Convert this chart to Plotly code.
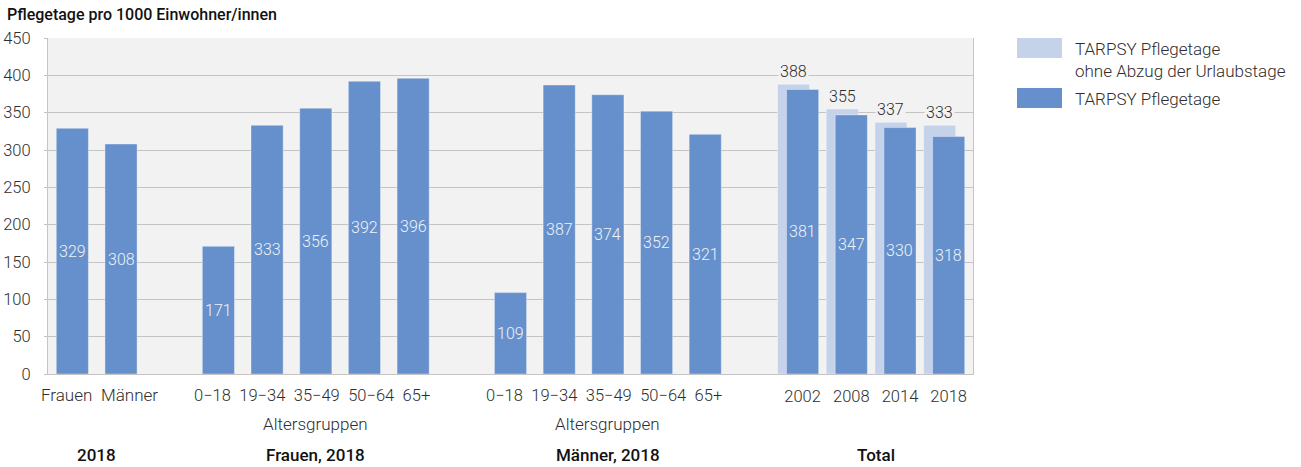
import plotly.graph_objects as go

# Category labels (slot indices on a numeric x axis; empty slots separate groups)
sex_labels = ["Frauen", "Männer"]
sex_pos = [0, 1]
age_labels = ["0\u221218", "19\u221234", "35\u221249", "50\u221264", "65+"]
age_pos_f = [3, 4, 5, 6, 7]
age_pos_m = [9, 10, 11, 12, 13]
year_labels = ["2002", "2008", "2014", "2018"]
year_pos = [15, 16, 17, 18]

# TARPSY Pflegetage per 1000 inhabitants
pflegetage_sex = [329, 308]
pflegetage_f = [171, 333, 356, 392, 396]
pflegetage_m = [109, 387, 374, 352, 321]
pflegetage_total = [381, 347, 330, 318]

# Totals without deduction of leave days
ohne_abzug_total = [388, 355, 337, 333]

group_labels = ["2018", "Frauen, 2018", "Männer, 2018", "Total"]
group_centers = [0.5, 5, 11, 16.5]
sub_label = "Altersgruppen"

slot_positions = sex_pos + age_pos_f + age_pos_m + year_pos
pflegetage = pflegetage_sex + pflegetage_f + pflegetage_m + pflegetage_total

DARK = "#6690cb"
LIGHT = "#c5d3ea"
BG = "#f2f2f2"
GRID = "#c4c4c4"
FONT = "Roboto"
TXT = "#2e2e2e"
FS = 16.5
GAP = "\u2002"  # en space between labels within a row

BAR_W = 0.66
LIGHT_SHIFT = -0.185

fig = go.Figure()

fig.add_trace(go.Bar(
    x=year_pos, y=ohne_abzug_total, width=BAR_W,
    offset=-BAR_W / 2 + LIGHT_SHIFT,
    marker=dict(color=LIGHT, line=dict(color="rgba(255,255,255,0.35)", width=1)),
    showlegend=False, hoverinfo="skip",
))
fig.add_trace(go.Bar(
    x=slot_positions, y=pflegetage, width=BAR_W,
    marker=dict(color=DARK, line=dict(color="rgba(255,255,255,0.35)", width=1)),
    showlegend=False, hoverinfo="skip",
))

# plot-area geometry in pixels
W, H = 1301, 467
L, R, T, B = 48, 328, 38, 93
pw, ph = W - L - R, H - T - B


def px(xp):
    return (xp - L) / pw


def py(yp):
    return (H - B - yp) / ph


annotations = []
# values inside the dark bars, centred vertically
for xp, v in zip(slot_positions, pflegetage):
    annotations.append(dict(x=xp, y=v / 2, xref="x", yref="y", text=str(v),
                            showarrow=False, yanchor="middle",
                            font=dict(family=FONT, size=16, color="#eef2f9", weight=300)))
# values above the light bars
for xp, v in zip(year_pos, ohne_abzug_total):
    annotations.append(dict(x=xp + LIGHT_SHIFT, y=v, xref="x", yref="y", text=str(v),
                            showarrow=False, yanchor="bottom", yshift=1,
                            bgcolor=BG, borderpad=1,
                            font=dict(family=FONT, size=16, color=TXT, weight=300)))

# category label rows for the sex and age groups, set as one line per group
for labels, pos, size in ((sex_labels, sex_pos, 17), (age_labels, age_pos_f, FS),
                          (age_labels, age_pos_m, FS)):
    centre = (pos[0] + pos[-1]) / 2 + (0.05 if len(pos) == 2 else -0.07)
    annotations.append(dict(x=centre, y=py(395), xref="x", yref="paper", text=GAP.join(labels),
                            showarrow=False, yanchor="middle",
                            font=dict(family=FONT, size=size, color=TXT, weight=300)))
# sub-axis labels and group labels
for pos in (age_pos_f, age_pos_m):
    annotations.append(dict(x=(pos[0] + pos[-1]) / 2, y=py(424), xref="x", yref="paper",
                            text=sub_label, showarrow=False, yanchor="middle",
                            font=dict(family=FONT, size=17, color=TXT, weight=300)))
for xc, t in zip(group_centers, group_labels):
    annotations.append(dict(x=xc, y=py(455), xref="x", yref="paper", text=t,
                            showarrow=False, yanchor="middle",
                            font=dict(family=FONT, size=17, color="#111111", weight=500)))
# axis title
annotations.append(dict(x=px(5), y=py(14), xref="paper", yref="paper",
                        text="Pflegetage pro 1000 Einwohner/innen",
                        showarrow=False, xanchor="left", yanchor="middle",
                        font=dict(family=FONT, size=16, color="#111111", weight=500)))

# custom legend
shapes = [
    dict(type="rect", xref="paper", yref="paper", x0=px(1017), x1=px(1062), y0=py(58), y1=py(38),
         fillcolor=LIGHT, line=dict(width=0)),
    dict(type="rect", xref="paper", yref="paper", x0=px(1017), x1=px(1062), y0=py(108), y1=py(88),
         fillcolor=DARK, line=dict(width=0)),
]
annotations.append(dict(x=px(1073), y=py(60), xref="paper", yref="paper",
                        text="TARPSY Pflegetage<br>ohne Abzug der Urlaubstage",
                        showarrow=False, xanchor="left", yanchor="middle", align="left",
                        font=dict(family=FONT, size=17, color=TXT, weight=300)))
annotations.append(dict(x=px(1073), y=py(99), xref="paper", yref="paper",
                        text="TARPSY Pflegetage",
                        showarrow=False, xanchor="left", yanchor="middle", align="left",
                        font=dict(family=FONT, size=17, color=TXT, weight=300)))

fig.update_layout(
    width=W, height=H,
    margin=dict(l=L, r=R, t=T, b=B, autoexpand=False),
    paper_bgcolor="white", plot_bgcolor=BG,
    barmode="overlay",
    annotations=annotations, shapes=shapes,
    font=dict(family=FONT, color=TXT),
)
fig.update_xaxes(
    range=[-0.5, 18.5], tickmode="array", tickvals=year_pos, ticktext=year_labels,
    tickangle=0,
    showgrid=False, zeroline=False, ticks="", showline=True, linecolor=GRID, linewidth=1,
    tickfont=dict(family=FONT, size=FS, color=TXT, weight=300), ticklabelstandoff=7,
    fixedrange=True,
)
fig.update_yaxes(
    range=[0, 450], tickmode="linear", tick0=0, dtick=50,
    showgrid=True, gridcolor=GRID, gridwidth=1, zeroline=False,
    showline=True, mirror=True, linecolor=GRID, linewidth=1,
    ticks="outside", ticklen=3, tickcolor=GRID,
    tickfont=dict(family=FONT, size=FS, color=TXT, weight=300), ticklabelstandoff=10,
    fixedrange=True,
)

fig.write_html("out.html")
